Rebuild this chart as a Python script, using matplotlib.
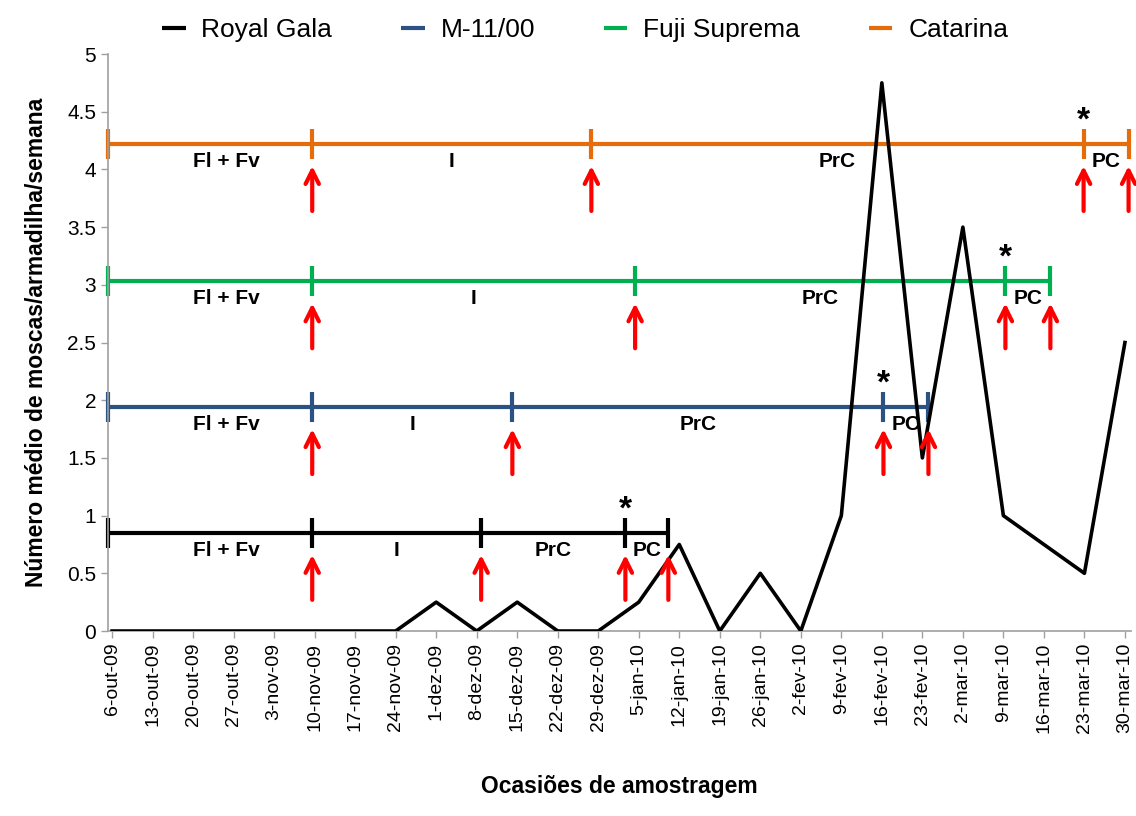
import matplotlib.pyplot as plt
import numpy as np

plt.rcParams['font.family'] = ['Liberation Sans', 'DejaVu Sans']

dates = ['6-out-09', '13-out-09', '20-out-09', '27-out-09', '3-nov-09', '10-nov-09',
         '17-nov-09', '24-nov-09', '1-dez-09', '8-dez-09', '15-dez-09', '22-dez-09',
         '29-dez-09', '5-jan-10', '12-jan-10', '19-jan-10', '26-jan-10', '2-fev-10',
         '9-fev-10', '16-fev-10', '23-fev-10', '2-mar-10', '9-mar-10', '16-mar-10',
         '23-mar-10', '30-mar-10']
moscas = [0, 0, 0, 0, 0, 0, 0, 0, 0.25, 0, 0.25, 0, 0, 0.25, 0.75, 0, 0.5, 0,
          1.0, 4.75, 1.5, 3.5, 1.0, 0.75, 0.5, 2.5]

cultivars = ['Royal Gala', 'M-11/00', 'Fuji Suprema', 'Catarina']
colors = ['black', '#2B5283', '#00B050', '#E46C0A']
levels = [0.85, 1.94, 3.03, 4.22]
# stage limits in sampling-occasion units (start, Fl+Fv|I, I|PrC, PrC|PC, end)
limits = [
    [-0.1, 4.94, 9.11, 12.67, 13.73],
    [-0.1, 4.94, 9.88, 19.04, 20.15],
    [-0.1, 4.94, 12.91, 22.05, 23.16],
    [-0.1, 4.94, 11.83, 23.98, 25.09],
]
stages = ['Fl + Fv', 'I', 'PrC', 'PC']

fig = plt.figure(figsize=(11.36, 8.16), dpi=100)
ax = fig.add_axes([0.0951, 0.2267, 0.9005, 0.7071])

x = np.arange(len(dates))

for name, col, lev, lim in zip(cultivars, colors, levels, limits):
    ax.plot([lim[0], lim[-1]], [lev, lev], color=col, lw=3, zorder=2,
            solid_capstyle='butt', label=name)
    ax.plot(lim, [lev] * len(lim), ls='none', marker='|', markersize=21,
            markeredgewidth=3, color=col, zorder=2, clip_on=False)
    for i, st in enumerate(stages):
        xm = (lim[i] + lim[i + 1]) / 2
        if i == 0:
            xm += 0.4
        ax.text(xm, lev - 0.15, st, ha='center', va='center', fontsize=15,
                fontweight='bold', zorder=5)
    ax.text(lim[3], lev + 0.2, '*', ha='center', va='center', fontsize=24,
            fontweight='bold', zorder=5)
    for xa in lim[1:]:
        ax.annotate('', xy=(xa, lev - 0.19), xytext=(xa, lev - 0.58),
                    arrowprops=dict(arrowstyle='->', color='red', lw=3,
                                    mutation_scale=24, shrinkA=0, shrinkB=0),
                    zorder=4, annotation_clip=False)

ax.plot(x, moscas, color='black', lw=2.6, zorder=3)

ax.set_xlim(-0.1, 25.15)
ax.set_ylim(0, 5)
ax.set_xticks(x)
ax.set_xticklabels(dates, rotation=90, fontsize=14)
ax.set_yticks(np.arange(0, 5.01, 0.5))
ax.set_yticklabels(['0', '0.5', '1', '1.5', '2', '2.5', '3', '3.5', '4', '4.5', '5'],
                   fontsize=15)
ax.tick_params(axis='both', color='#A0A0A0', length=5, width=1)
for s in ['top', 'right']:
    ax.spines[s].set_visible(False)
for s in ['left', 'bottom']:
    ax.spines[s].set_color('#A0A0A0')
    ax.spines[s].set_linewidth(1.2)

ax.set_ylabel('Número médio de moscas/armadilha/semana', fontsize=16.5,
              fontweight='bold', labelpad=14)
ax.set_xlabel('Ocasiões de amostragem', fontsize=16.5, fontweight='bold', labelpad=30)

handles, labs = ax.get_legend_handles_labels()
fig.legend(handles, labs, loc='center', bbox_to_anchor=(0.515, 0.963), ncol=4,
           frameon=False, fontsize=19, handlelength=0.9, handletextpad=0.6,
           columnspacing=2.6)

fig.savefig('out.png', dpi=100)
